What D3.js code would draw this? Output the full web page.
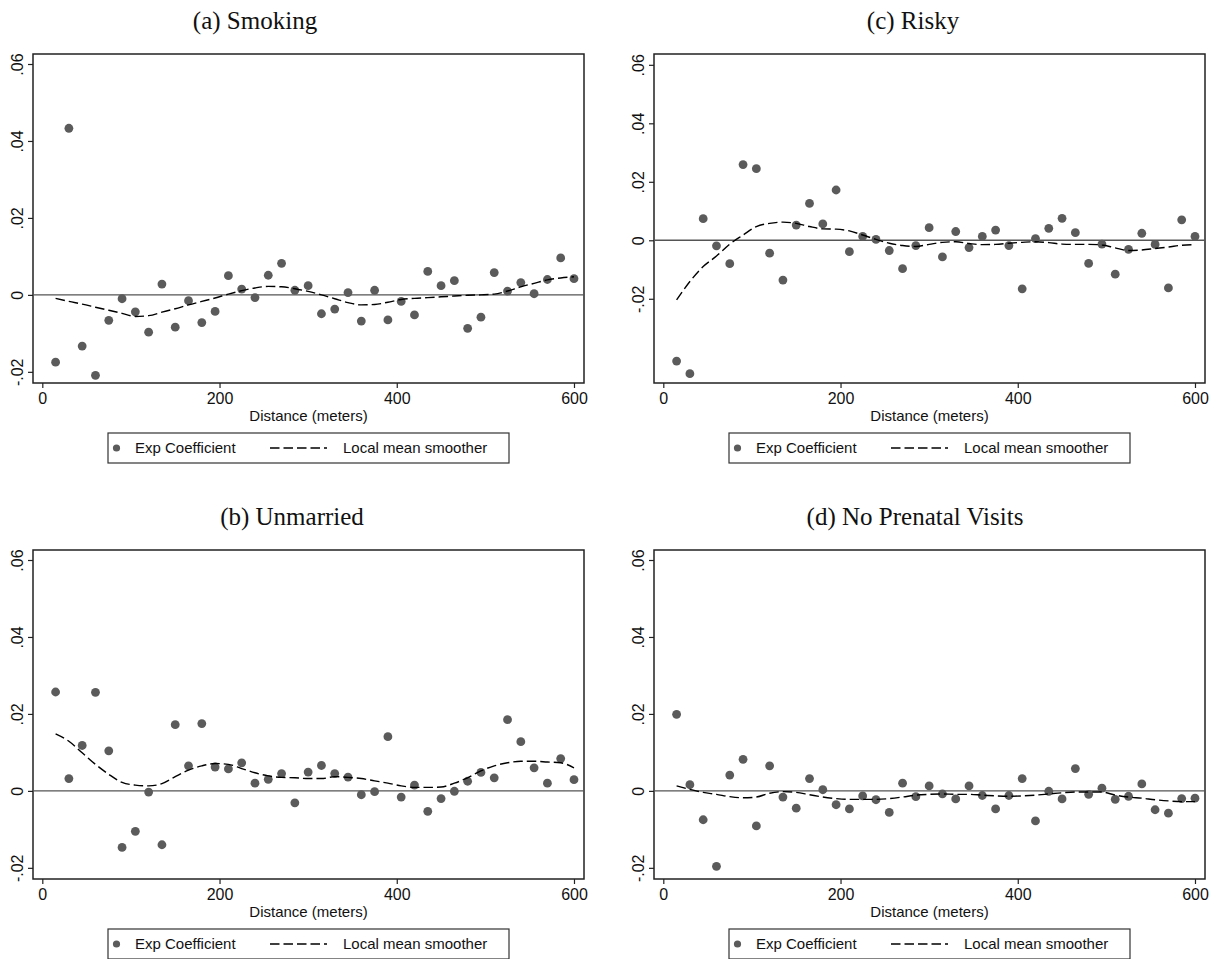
<!DOCTYPE html>
<meta charset="utf-8">
<html>
<style>
 body { margin:0; background:#fff; }
 svg { display:block; }
</style>
<script src="https://cdn.jsdelivr.net/npm/d3@7"></script>
<body>
<svg width="1217" height="959"></svg>
<script>
// distance bins (meters)
const distance = [15,30,45,60,75,90,105,120,135,150,165,180,195,210,225,240,255,270,285,300,
                  315,330,345,360,375,390,405,420,435,450,465,480,495,510,525,540,555,570,585,600];

const smokingCoef = [-0.0175,0.0433,-0.0133,-0.0209,-0.0066,-0.0010,-0.0044,-0.0097,0.0028,-0.0084,
                     -0.0015,-0.0072,-0.0043,0.0050,0.0015,-0.0007,0.0051,0.0082,0.0012,0.0024,
                     -0.0049,-0.0037,0.0006,-0.0068,0.0012,-0.0065,-0.0017,-0.0052,0.0061,0.0024,
                     0.0037,-0.0087,-0.0058,0.0058,0.0010,0.0032,0.0003,0.0040,0.0096,0.0042];
const smokingSmooth = [-0.0009,-0.0017,-0.0024,-0.0032,-0.0040,-0.0048,-0.0056,-0.0054,-0.0045,-0.0036,
                       -0.0026,-0.0017,-0.0008,0.0002,0.0011,0.0018,0.0022,0.0021,0.0016,0.0009,
                       0.0000,-0.0010,-0.0020,-0.0026,-0.0025,-0.0019,-0.0012,-0.0009,-0.0007,-0.0005,
                       -0.0003,-0.0001,0.0000,0.0002,0.0010,0.0021,0.0030,0.0039,0.0044,0.0047];

const riskyCoef = [-0.0413,-0.0456,0.0074,-0.0019,-0.0080,0.0259,0.0245,-0.0044,-0.0136,0.0052,
                   0.0126,0.0056,0.0172,-0.0039,0.0013,0.0003,-0.0035,-0.0097,-0.0018,0.0043,
                   -0.0057,0.0030,-0.0025,0.0013,0.0035,-0.0018,-0.0166,0.0006,0.0041,0.0075,
                   0.0026,-0.0079,-0.0013,-0.0116,-0.0031,0.0024,-0.0014,-0.0163,0.0070,0.0013];
const riskySmooth = [-0.0204,-0.0141,-0.0090,-0.0054,-0.0013,0.0018,0.0047,0.0058,0.0062,0.0058,
                     0.0047,0.0039,0.0038,0.0032,0.0018,0.0003,-0.0010,-0.0018,-0.0021,-0.0014,
                     -0.0007,-0.0005,-0.0011,-0.0015,-0.0014,-0.0010,-0.0007,-0.0005,-0.0008,-0.0013,
                     -0.0014,-0.0014,-0.0016,-0.0026,-0.0035,-0.0033,-0.0028,-0.0023,-0.0017,-0.0015];

const unmarriedCoef = [0.0257,0.0032,0.0118,0.0256,0.0104,-0.0147,-0.0105,-0.0003,-0.0140,0.0172,
                       0.0065,0.0175,0.0062,0.0057,0.0073,0.0020,0.0030,0.0045,-0.0031,0.0049,
                       0.0066,0.0045,0.0036,-0.0010,-0.0002,0.0141,-0.0016,0.0015,-0.0053,-0.0020,
                       -0.0001,0.0025,0.0048,0.0034,0.0185,0.0128,0.0060,0.0020,0.0084,0.0029];
const unmarriedSmooth = [0.0148,0.0129,0.0099,0.0069,0.0043,0.0022,0.0015,0.0013,0.0019,0.0037,
                         0.0054,0.0065,0.0071,0.0069,0.0058,0.0047,0.0039,0.0035,0.0034,0.0032,
                         0.0032,0.0037,0.0035,0.0032,0.0026,0.0020,0.0013,0.0009,0.0009,0.0010,
                         0.0020,0.0034,0.0052,0.0065,0.0073,0.0077,0.0077,0.0075,0.0073,0.0060];

const prenatalCoef = [0.0199,0.0016,-0.0075,-0.0196,0.0041,0.0082,-0.0091,0.0065,-0.0016,-0.0045,
                      0.0032,0.0003,-0.0036,-0.0047,-0.0013,-0.0023,-0.0056,0.0020,-0.0015,0.0013,
                      -0.0008,-0.0021,0.0013,-0.0012,-0.0047,-0.0012,0.0032,-0.0078,-0.0001,-0.0021,
                      0.0058,-0.0009,0.0007,-0.0022,-0.0014,0.0018,-0.0049,-0.0058,-0.0020,-0.0019];
const prenatalSmooth = [0.0013,0.0004,-0.0004,-0.0009,-0.0015,-0.0018,-0.0016,-0.0006,-0.0002,-0.0004,
                        -0.0010,-0.0016,-0.0020,-0.0022,-0.0022,-0.0022,-0.0020,-0.0016,-0.0011,-0.0009,
                        -0.0008,-0.0009,-0.0009,-0.0011,-0.0013,-0.0014,-0.0013,-0.0011,-0.0008,-0.0005,
                        -0.0003,-0.0003,-0.0003,-0.0011,-0.0016,-0.0019,-0.0023,-0.0026,-0.0028,-0.0028];

const yTicks = [-0.02, 0, 0.02, 0.04, 0.06];
const xTicks = [0, 200, 400, 600];
const legendLabels = ["Exp Coefficient", "Local mean smoother"];
const xTitle = "Distance (meters)";

const svg = d3.select('svg');
const W = 551, H = 329;
const sans = '"Liberation Sans", Arial, Helvetica, sans-serif';
const serif = '"Liberation Serif", "Times New Roman", serif';
const markColor = "#5b5b5b";
const dash = "9.5,4";

const panels = [
	{title:"(a) Smoking", tx:255, ty:29, left:33, top:54, coef:smokingCoef, smooth:smokingSmooth, yDom:[-0.0229,0.0626]},
	{title:"(c) Risky", tx:913, ty:29, left:654, top:54, coef:riskyCoef, smooth:riskySmooth, yDom:[-0.0488,0.0637]},
	{title:"(b) Unmarried", tx:292, ty:525, left:33, top:550, coef:unmarriedCoef, smooth:unmarriedSmooth, yDom:[-0.0229,0.0626]},
	{title:"(d) No Prenatal Visits", tx:915, ty:525, left:654, top:550, coef:prenatalCoef, smooth:prenatalSmooth, yDom:[-0.0229,0.0626]}
];

// stata style labels: .06, -.02, 0
const fmt = d => d === 0 ? "0" : (d < 0 ? "-" : "") + Math.abs(d).toFixed(2).replace("0.", ".");

panels.forEach(p => {
	svg.append('text')
		.attr('x', p.tx).attr('y', p.ty)
		.attr('text-anchor','middle')
		.attr('font-family', serif)
		.attr('font-size', 25)
		.attr('fill','#111')
		.text(p.title);

	const g = svg.append('g').attr('transform', `translate(${p.left},${p.top})`);
	const x = d3.scaleLinear().domain([-10.5, 611.3]).range([0, W]);
	const y = d3.scaleLinear().domain(p.yDom).range([H, 0]);

	// y axis, rotated labels
	const ya = g.append('g').call(d3.axisLeft(y).tickValues(yTicks).tickSize(5).tickFormat(fmt));
	ya.select('.domain').remove();
	ya.selectAll('.tick line').attr('stroke','#222').attr('stroke-width',1.2);
	ya.selectAll('.tick text')
		.attr('x',0).attr('y',-10).attr('dy',0)
		.attr('transform','rotate(-90)')
		.attr('text-anchor','middle')
		.attr('font-family', sans).attr('font-size',16).attr('fill','#111');

	const xa = g.append('g').attr('transform',`translate(0,${H})`)
		.call(d3.axisBottom(x).tickValues(xTicks).tickSize(5).tickPadding(5));
	xa.select('.domain').remove();
	xa.selectAll('.tick line').attr('stroke','#222').attr('stroke-width',1.2);
	xa.selectAll('.tick text').attr('font-family', sans).attr('font-size',16).attr('fill','#111');

	g.append('text')
		.attr('x', W/2).attr('y', H+38)
		.attr('text-anchor','middle')
		.attr('font-family', sans).attr('font-size',15).attr('fill','#111')
		.text(xTitle);

	// frame
	g.append('rect')
		.attr('width', W).attr('height', H)
		.attr('fill','none').attr('stroke','#222').attr('stroke-width',1.5);

	// zero line
	g.append('line')
		.attr('x1',0).attr('x2',W)
		.attr('y1',y(0)).attr('y2',y(0))
		.attr('stroke','#555').attr('stroke-width',1.4);

	const pts = distance.map((d,i) => [d, p.coef[i]]);
	g.selectAll('circle.pt').data(pts).enter().append('circle')
		.attr('class','pt')
		.attr('cx', d => x(d[0])).attr('cy', d => y(d[1]))
		.attr('r', 4.4).attr('fill', markColor);

	const line = d3.line().x(d => x(d[0])).y(d => y(d[1])).curve(d3.curveMonotoneX);
	g.append('path')
		.datum(distance.map((d,i) => [d, p.smooth[i]]))
		.attr('d', line)
		.attr('fill','none').attr('stroke','#000')
		.attr('stroke-width',1.4).attr('stroke-dasharray', dash);

	// legend
	const lg = g.append('g').attr('transform', `translate(${W/2 - 200.5},${H+50})`);
	lg.append('rect').attr('width',401).attr('height',30)
		.attr('fill','#fff').attr('stroke','#333').attr('stroke-width',1.2);
	lg.append('circle').attr('cx',8.5).attr('cy',15).attr('r',3.6).attr('fill',markColor);
	lg.append('text').attr('x',27).attr('y',20.4)
		.attr('font-family',sans).attr('font-size',15).attr('fill','#111')
		.text(legendLabels[0]);
	lg.append('line').attr('x1',162).attr('x2',219).attr('y1',15).attr('y2',15)
		.attr('stroke','#000').attr('stroke-width',1.4).attr('stroke-dasharray',dash);
	lg.append('text').attr('x',235).attr('y',20.4)
		.attr('font-family',sans).attr('font-size',15).attr('fill','#111')
		.text(legendLabels[1]);
});
</script>
</body>
</html>
